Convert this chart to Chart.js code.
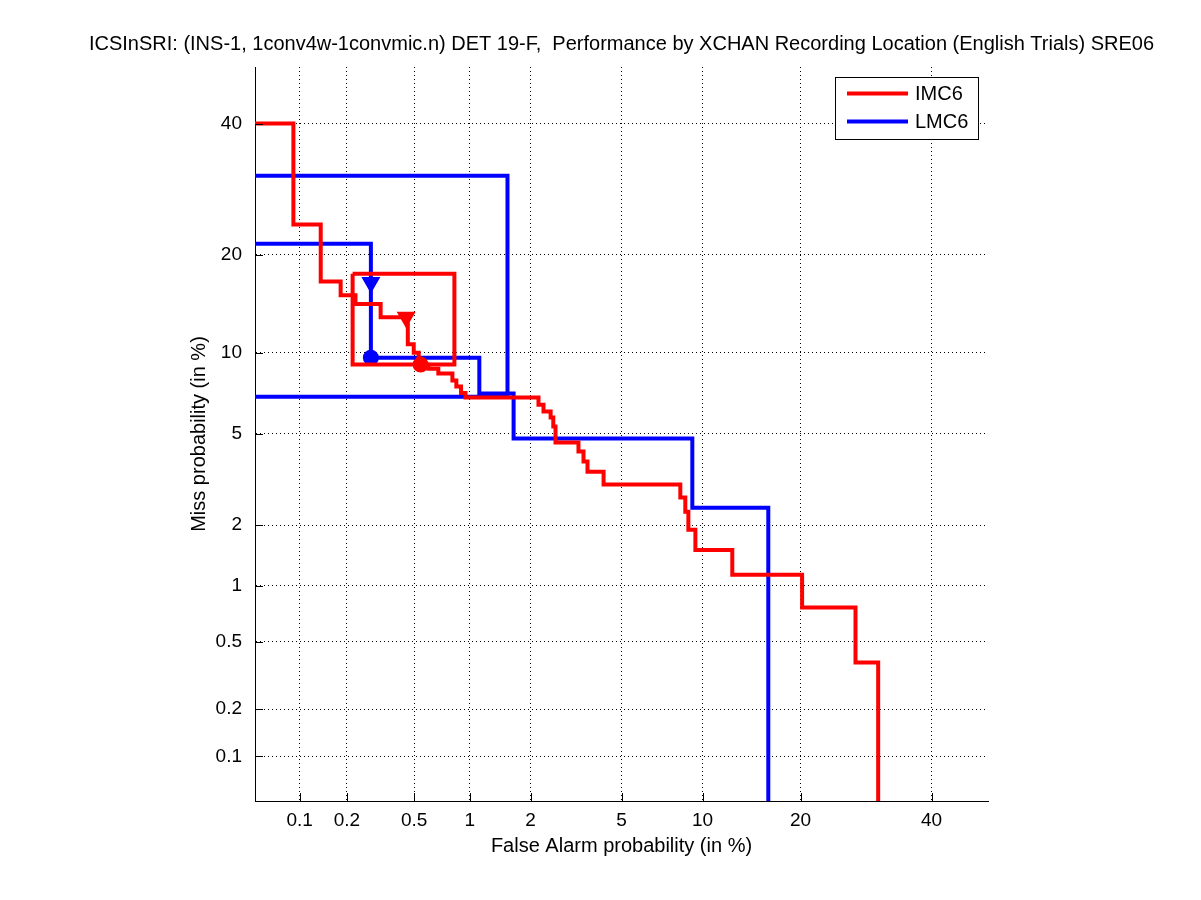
<!DOCTYPE html>
<html>
<head>
<meta charset="utf-8">
<script src="https://cdn.jsdelivr.net/npm/chart.js@4.4.0/dist/chart.umd.min.js"></script>
<style>
  html, body { margin: 0; padding: 0; background: #fff; }
  canvas { display: block; }
</style>
</head>
<body>
<canvas id="det" width="1201" height="900"></canvas>
<script>
// tick positions (in %) and their labels, same on both axes
const tickPcts = [0.1, 0.2, 0.5, 1, 2, 5, 10, 20, 40];
const tickLabels = ["0.1", "0.2", "0.5", "1", "2", "5", "10", "20", "40"];
const axisMinPct = 0.05;
const axisMaxPct = 50;

// IMC6 DET curve (false alarm %, miss %)
const imcFa = [0.03, 0.091, 0.091, 0.137, 0.137, 0.183, 0.183, 0.226, 0.226, 0.32, 0.32, 0.46, 0.46, 0.497, 0.497, 0.53, 0.53, 0.60, 0.60, 0.68, 0.68, 0.81, 0.81, 0.85, 0.85, 0.90, 0.90, 0.95, 0.95, 2.18, 2.18, 2.30, 2.30, 2.48, 2.48, 2.55, 2.55, 2.61, 2.61, 3.30, 3.30, 3.47, 3.47, 3.61, 3.61, 4.22, 4.22, 8.36, 8.36, 8.71, 8.71, 8.93, 8.93, 9.45, 9.45, 12.55, 12.55, 20.2, 20.2, 27.6, 27.6, 31.1, 31.1];
const imcMiss = [40, 40, 24.0, 24.0, 16.8, 16.8, 15.3, 15.3, 14.4, 14.4, 13.1, 13.1, 10.7, 10.7, 10.0, 10.0, 9.1, 9.1, 8.8, 8.8, 8.47, 8.47, 8.0, 8.0, 7.6, 7.6, 7.2, 7.2, 6.92, 6.92, 6.5, 6.5, 6.12, 6.12, 5.8, 5.8, 5.35, 5.35, 4.61, 4.61, 4.24, 4.24, 3.85, 3.85, 3.48, 3.48, 3.06, 3.06, 2.68, 2.68, 2.31, 2.31, 1.90, 1.90, 1.52, 1.52, 1.14, 1.14, 0.77, 0.77, 0.38, 0.38, 0.01];
// IMC6 box
const imcBoxFa = [0.217, 0.83, 0.83, 0.217, 0.217];
const imcBoxMiss = [17.7, 17.7, 9.11, 9.11, 17.7];
// IMC6 markers: [triangle, circle]
const imcMarkFa = [0.45, 0.543];
const imcMarkMiss = [13.1, 9.11];

// LMC6 DET curve
const lmcFa = [0.03, 0.28, 0.28, 1.12, 1.12, 1.66, 1.66, 9.22, 9.22, 16.2, 16.2];
const lmcMiss = [21.4, 21.4, 9.63, 9.63, 7.17, 7.17, 4.79, 4.79, 2.41, 2.41, 0.01];
// LMC6 box
const lmcBoxFa = [0.03, 1.55, 1.55, 0.03];
const lmcBoxMiss = [31.3, 31.3, 6.97, 6.97];
// LMC6 markers: [triangle, circle]
const lmcMarkFa = [0.28, 0.28];
const lmcMarkMiss = [16.7, 9.63];

const titleText = "ICSInSRI: (INS-1, 1conv4w-1convmic.n) DET 19-F,  Performance by XCHAN Recording Location (English Trials) SRE06";
const FONT = "'Liberation Sans', Arial, Helvetica, sans-serif";

// inverse normal CDF (Acklam) -> normal deviate scale
function probit(p) {
  const a = [-3.969683028665376e+01, 2.209460984245205e+02, -2.759285104469687e+02, 1.383577518672690e+02, -3.066479806614716e+01, 2.506628277459239e+00];
  const b = [-5.447609879822406e+01, 1.615858368580409e+02, -1.556989798598866e+02, 6.680131188771972e+01, -1.328068155288572e+01];
  const c = [-7.784894002430293e-03, -3.223964580411365e-01, -2.400758277161838e+00, -2.549732539343734e+00, 4.374664141464968e+00, 2.938163982698783e+00];
  const d = [7.784695709041462e-03, 3.224671290700398e-01, 2.445134137142996e+00, 3.754408661907416e+00];
  const plow = 0.02425;
  if (p < plow) {
    const q = Math.sqrt(-2 * Math.log(p));
    return (((((c[0]*q+c[1])*q+c[2])*q+c[3])*q+c[4])*q+c[5]) / ((((d[0]*q+d[1])*q+d[2])*q+d[3])*q+1);
  }
  if (p <= 1 - plow) {
    const q = p - 0.5, r = q * q;
    return (((((a[0]*r+a[1])*r+a[2])*r+a[3])*r+a[4])*r+a[5])*q / (((((b[0]*r+b[1])*r+b[2])*r+b[3])*r+b[4])*r+1);
  }
  const q = Math.sqrt(-2 * Math.log(1 - p));
  return -(((((c[0]*q+c[1])*q+c[2])*q+c[3])*q+c[4])*q+c[5]) / ((((d[0]*q+d[1])*q+d[2])*q+d[3])*q+1);
}
const nd = (pct) => probit(pct / 100);
const pts = (fa, miss) => fa.map((f, i) => ({ x: nd(f), y: nd(miss[i]) }));

const lineSet = (label, fa, miss, color) => ({
  label: label,
  data: pts(fa, miss),
  showLine: true,
  borderColor: color,
  backgroundColor: color,
  borderWidth: 4,
  pointRadius: 0,
  clip: 0,
});
const markSet = (fa, miss, color) => ({
  data: pts(fa, miss),
  showLine: false,
  borderColor: color,
  backgroundColor: color,
  pointStyle: ["triangle", "circle"],
  rotation: [180, 0],
  pointRadius: [9, 7],
  borderWidth: 2,
  clip: 0,
});

// title drawn over the axes, inner tick marks, boxed legend
const detDecor = {
  id: "detDecor",
  afterDraw(chart) {
    const { ctx, chartArea: area, scales } = chart;
    ctx.save();
    ctx.fillStyle = "#000";
    ctx.font = "20px " + FONT;
    ctx.textAlign = "center";
    ctx.textBaseline = "middle";
    ctx.fillText(titleText, (area.left + area.right) / 2, 44);

    ctx.strokeStyle = "#000";
    ctx.lineWidth = 1;
    ctx.beginPath();
    scales.x.ticks.forEach((t) => {
      const px = Math.round(scales.x.getPixelForValue(t.value)) + 0.5;
      ctx.moveTo(px, area.bottom);
      ctx.lineTo(px, area.bottom - 8);
    });
    scales.y.ticks.forEach((t) => {
      const py = Math.round(scales.y.getPixelForValue(t.value)) + 0.5;
      ctx.moveTo(area.left, py);
      ctx.lineTo(area.left + 8, py);
    });
    ctx.stroke();

    // legend
    const lx = 835.5, ly = 77.5, lw = 143, lh = 62;
    ctx.fillStyle = "#fff";
    ctx.fillRect(lx, ly, lw, lh);
    ctx.strokeRect(lx, ly, lw, lh);
    const items = chart.data.datasets.filter((ds) => ds.label && ds.legend);
    items.forEach((ds, i) => {
      const y = ly + 16 + i * 28;
      ctx.strokeStyle = ds.borderColor;
      ctx.lineWidth = 4;
      ctx.beginPath();
      ctx.moveTo(847, y);
      ctx.lineTo(908, y);
      ctx.stroke();
      ctx.fillStyle = "#000";
      ctx.textAlign = "left";
      ctx.fillText(ds.label, 915, y + 1);
    });
    ctx.restore();
  },
};

const axisOpts = (titleText, titlePad, tickPad, size) => ({
  type: "linear",
  min: nd(axisMinPct),
  max: nd(axisMaxPct),
  afterBuildTicks: (scale) => {
    scale.ticks = tickPcts.map((p) => ({ value: nd(p) }));
  },
  afterFit: size,
  ticks: {
    autoSkip: false,
    maxRotation: 0,
    padding: tickPad,
    color: "#000",
    font: { family: FONT, size: 19 },
    callback: (val, i) => tickLabels[i],
  },
  grid: {
    color: "#000",
    lineWidth: 1,
    drawTicks: false,
  },
  border: {
    display: true,
    color: "#000",
    width: 1,
    dash: [1, 3],
  },
  title: {
    display: true,
    text: titleText,
    color: "#000",
    font: { family: FONT, size: 20 },
    padding: titlePad,
  },
});

const imcLine = lineSet("IMC6", imcFa, imcMiss, "#ff0000");
imcLine.legend = true;
const lmcLine = lineSet("LMC6", lmcFa, lmcMiss, "#0000ff");
lmcLine.legend = true;

const chart = new Chart(document.getElementById("det"), {
  type: "scatter",
  data: {
    datasets: [
      imcLine,
      lineSet("IMC6 box", imcBoxFa, imcBoxMiss, "#ff0000"),
      markSet(imcMarkFa, imcMarkMiss, "#ff0000"),
      lmcLine,
      lineSet("LMC6 box", lmcBoxFa, lmcBoxMiss, "#0000ff"),
      markSet(lmcMarkFa, lmcMarkMiss, "#0000ff"),
    ],
  },
  options: {
    responsive: false,
    animation: false,
    layout: { padding: { top: 67, right: 213, bottom: 0, left: 0 } },
    scales: {
      x: axisOpts("False Alarm probability (in %)", { bottom: 42 }, 8, (s) => { s.height = 99; }),
      y: axisOpts("Miss probability (in %)", { top: 187 }, 13, (s) => { s.width = 255; }),
    },
    plugins: {
      legend: { display: false },
      tooltip: { enabled: false },
    },
  },
  plugins: [detDecor],
});
</script>
</body>
</html>
